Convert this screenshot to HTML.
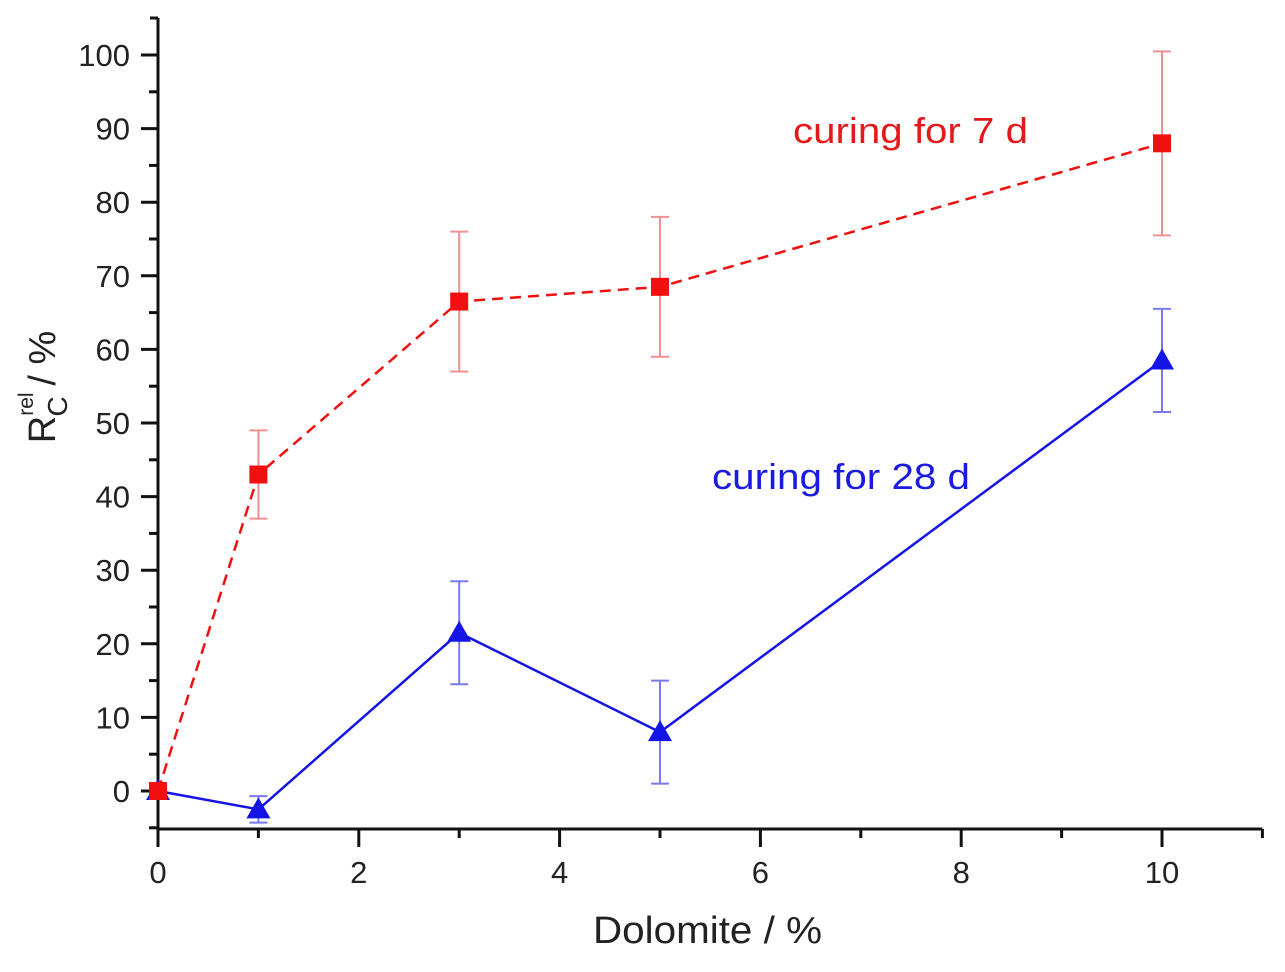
<!DOCTYPE html>
<html><head><meta charset="utf-8"><style>
html,body{margin:0;padding:0;background:#fff;}
svg{display:block;font-family:"Liberation Sans",Arial,sans-serif;}
</style></head><body>
<svg id="chart" width="1285" height="972" viewBox="0 0 1285 972" xmlns="http://www.w3.org/2000/svg">
<g id="axes"></g>
<g id="series"></g>
<text x="593" y="943" font-size="38" textLength="229" lengthAdjust="spacingAndGlyphs" fill="#222">Dolomite / %</text>
<text transform="translate(55,387) rotate(-90)" font-size="38" text-anchor="middle" fill="#222">R<tspan font-size="21" dy="-22">rel</tspan><tspan font-size="28" dy="34" dx="-24">C</tspan><tspan dy="-12"> / %</tspan></text>
<text x="793" y="143" font-size="36" textLength="235" lengthAdjust="spacingAndGlyphs" fill="#e41a1a">curing for 7 d</text>
<text x="712" y="489" font-size="36" textLength="258" lengthAdjust="spacingAndGlyphs" fill="#1a1ae0">curing for 28 d</text>
</svg>
<script>
const xCats = [0, 1, 3, 5, 10];
const red7d = [0, 43, 66.5, 68.5, 88];
const red7dErr = [0, 6, 9.5, 9.5, 12.5];
const blue28d = [0, -2.5, 21.5, 8, 58.5];
const blue28dErr = [0, 1.8, 7, 7, 7];
const xTicks = [0, 2, 4, 6, 8, 10];
const yTicks = [0, 10, 20, 30, 40, 50, 60, 70, 80, 90, 100];

const X0 = 158, XPX = 100.4, Y0 = 791, YPX = 7.36;
const xs = v => X0 + v * XPX;
const ys = v => Y0 - v * YPX;
const NS = "http://www.w3.org/2000/svg";
function mk(tag, attrs, parent) {
  const e = document.createElementNS(NS, tag);
  for (const k in attrs) e.setAttribute(k, attrs[k]);
  parent.appendChild(e);
  return e;
}
const ax = document.getElementById('axes');
const se = document.getElementById('series');
const xAxisY = 829, yTop = 18, xRight = xs(11);
let l = mk('line', {x1: X0, y1: xAxisY, x2: xRight, y2: xAxisY, stroke: '#111', 'stroke-width': 3}, ax);


l = mk('line', {x1: X0, y1: xAxisY + 1, x2: X0, y2: yTop, stroke: '#111', 'stroke-width': 3}, ax);


mk('line', {x1: X0 - 8, y1: yTop, x2: X0, y2: yTop, stroke: '#111', 'stroke-width': 3}, ax);
for (let i = 0; i <= 11; i++) {
  const major = i % 2 === 0;
  const t = mk('line', {x1: xs(i), y1: xAxisY, x2: xs(i), y2: xAxisY + (major ? 18 : 9), stroke: '#111', 'stroke-width': 3}, ax);
  
  
}
xTicks.forEach(v => {
  const t = mk('text', {x: xs(v), y: 883, 'font-size': 31, 'text-anchor': 'middle', fill: '#222'}, ax);
  t.textContent = v;
  
  
});
for (let v = -5; v <= 100; v += 5) {
  const major = v % 10 === 0;
  const t = mk('line', {x1: X0 - (major ? 17 : 9), y1: ys(v), x2: X0, y2: ys(v), stroke: '#111', 'stroke-width': 3}, ax);
  
  
}
yTicks.forEach(v => {
  const t = mk('text', {x: 130, y: ys(v) + 11, 'font-size': 31, 'text-anchor': 'end', fill: '#222'}, ax);
  t.textContent = v;
  
  
});
function drawSeries(vals, errs, color, errColor, dash, marker, name) {
  const pts = xCats.map((x, i) => xs(x) + ',' + ys(vals[i])).join(' ');
  const pl = mk('polyline', {points: pts, fill: 'none', stroke: color, 'stroke-width': 2.5, 'stroke-dasharray': dash}, se);
  
  
  xCats.forEach((x, i) => {
    const cx = xs(x), cy = ys(vals[i]);
    if (errs[i] > 0) {
      const g = mk('g', {stroke: errColor, 'stroke-width': 2}, se);
      
      
      mk('line', {x1: cx, y1: ys(vals[i] - errs[i]), x2: cx, y2: ys(vals[i] + errs[i])}, g);
      mk('line', {x1: cx - 9, y1: ys(vals[i] + errs[i]), x2: cx + 9, y2: ys(vals[i] + errs[i])}, g);
      mk('line', {x1: cx - 9, y1: ys(vals[i] - errs[i]), x2: cx + 9, y2: ys(vals[i] - errs[i])}, g);
    }
    let m;
    if (marker === 'square') m = mk('rect', {x: cx - 9, y: cy - 9, width: 18, height: 18, fill: color}, se);
    else m = mk('polygon', {points: (cx) + ',' + (cy - 12) + ' ' + (cx - 12) + ',' + (cy + 9) + ' ' + (cx + 12) + ',' + (cy + 9), fill: color}, se);
    
    
  });
}
drawSeries(blue28d, blue28dErr, '#1414e6', '#7a7af0', 'none', 'triangle', 'curing-28d');
drawSeries(red7d, red7dErr, '#f01010', '#f09090', '11,7', 'square', 'curing-7d');
</script>
</body></html>
